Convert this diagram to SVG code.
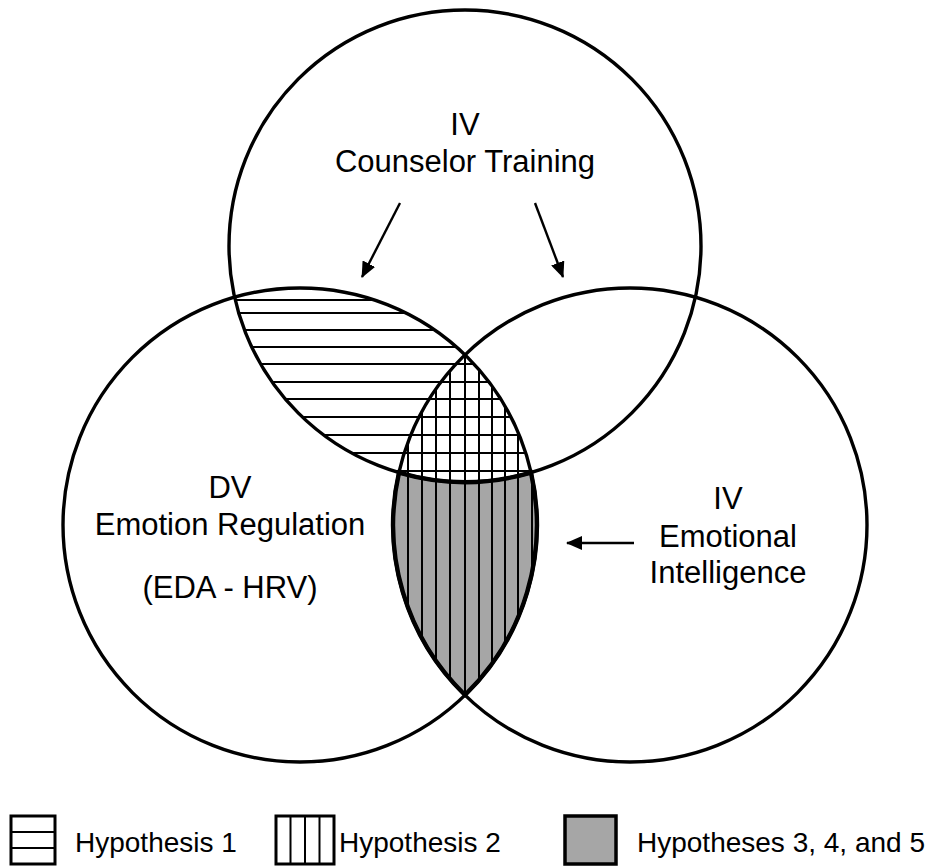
<svg xmlns="http://www.w3.org/2000/svg" width="942" height="867" viewBox="0 0 942 867">
<style>
.c{fill:none;stroke:#000;stroke-width:3.4}
.h{stroke:#000;stroke-width:2}
.lbl{font-family:"Liberation Sans",Arial,sans-serif;font-size:31px;fill:#000;text-anchor:middle}
.leg{font-family:"Liberation Sans",Arial,sans-serif;font-size:28px;fill:#000}
.ar{stroke:#000;stroke-width:2.4;fill:none;marker-end:url(#ah)}
</style>
<defs>
<marker id="ah" viewBox="0 0 16 14" refX="15" refY="7" markerWidth="16" markerHeight="14" markerUnits="userSpaceOnUse" orient="auto">
<path d="M0,0 L16,7 L0,14 Z" fill="#000"/>
</marker>
<clipPath id="cTop"><circle cx="465" cy="246" r="236"/></clipPath>
<clipPath id="cLeft"><circle cx="300" cy="525" r="237"/></clipPath>
<clipPath id="cRight"><circle cx="630" cy="525" r="237"/></clipPath>
</defs>
<rect width="942" height="867" fill="#fff"/>
<g id="overlaps">
<path id="lens" d="M399,472.6 A236,236 0 0 0 531,472.6 A237,237 0 0 1 465,695 A237,237 0 0 1 399,472.6 Z" fill="#a6a6a6"/>
<g clip-path="url(#cTop)"><g clip-path="url(#cLeft)">
<path class="h" d="M200,300H560M200,313H560M200,330H560M200,347H560M200,364H560M200,382H560M200,399H560M200,417H560M200,435H560M200,453H560M200,471H560"/>
</g></g>
<g clip-path="url(#cLeft)"><g clip-path="url(#cRight)">
<path class="h" d="M408,340V700M422,340V700M436,340V700M450,340V700M465,340V700M479,340V700M492,340V700M505,340V700M518,340V700M532,340V700"/>
</g></g>
</g>
<g id="top-circle"><circle class="c" cx="465" cy="246" r="236"/>
<text class="lbl" x="465" y="135">IV</text>
<text class="lbl" x="465" y="172">Counselor Training</text></g>
<g id="left-circle"><circle class="c" cx="300" cy="525" r="237"/>
<text class="lbl" x="230" y="498">DV</text>
<text class="lbl" x="230" y="535">Emotion Regulation</text>
<text class="lbl" x="230" y="598">(EDA - HRV)</text></g>
<g id="right-circle"><circle class="c" cx="630" cy="525" r="237"/>
<text class="lbl" x="728" y="509">IV</text>
<text class="lbl" x="728" y="547">Emotional</text>
<text class="lbl" x="728" y="583">Intelligence</text></g>
<path d="M399,472.6 A236,236 0 0 0 531,472.6 A237,237 0 0 1 465,695 A237,237 0 0 1 399,472.6 Z" fill="none" stroke="#000" stroke-width="4.4"/>
<g id="connectors">
<line class="ar" x1="400" y1="203" x2="362" y2="277"/>
<line class="ar" x1="535" y1="203" x2="563" y2="277"/>
<line class="ar" x1="634" y1="543" x2="567" y2="543"/>
</g>
<g id="legend">
<g id="legend-h1">
<rect x="11" y="816" width="44" height="48" fill="#fff" stroke="#000" stroke-width="3"/>
<path class="h" d="M11,832H55M11,848H55"/>
<text class="leg" x="75" y="852">Hypothesis 1</text></g>
<g id="legend-h2">
<rect x="276" y="816" width="58" height="48" fill="#fff" stroke="#000" stroke-width="3"/>
<path class="h" d="M290.5,816V864M305,816V864M319.5,816V864"/>
<text class="leg" x="339" y="852">Hypothesis 2</text></g>
<g id="legend-h3">
<rect x="565" y="816" width="51" height="48" fill="#a6a6a6" stroke="#000" stroke-width="3.5"/>
<text class="leg" x="637" y="852">Hypotheses 3, 4, and 5</text></g>
</g>
</svg>
